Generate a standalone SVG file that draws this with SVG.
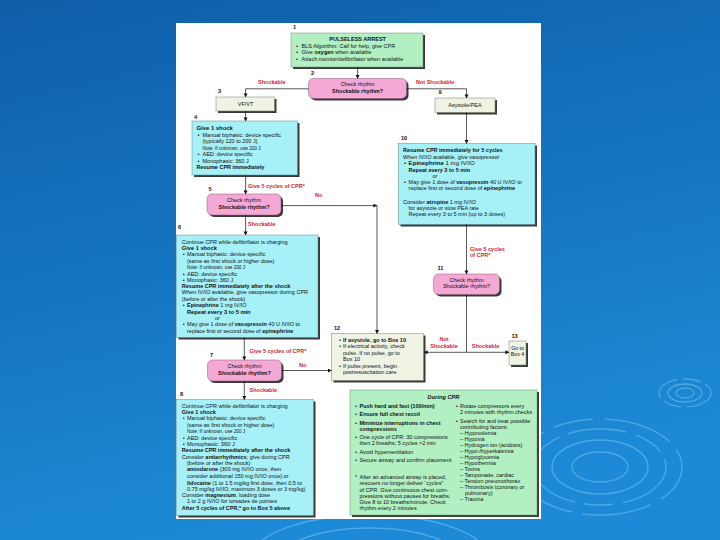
<svg xmlns="http://www.w3.org/2000/svg" width="720" height="540" viewBox="0 0 720 540">
<defs>
<linearGradient id="bg" x1="0" y1="0" x2="0.3" y2="1">
<stop offset="0" stop-color="#0f5ea8"/>
<stop offset="1" stop-color="#1c8ad6"/>
</linearGradient>
<marker id="ah" markerUnits="userSpaceOnUse" markerWidth="5" markerHeight="5" refX="3.6" refY="2" orient="auto">
<path d="M0,0 L3.8,2 L0,4 Z" fill="#111"/>
</marker>
<style>
.t{font-family:"Liberation Sans",Arial,sans-serif;font-size:5.5px;fill:#111}
.b{font-weight:bold}
.i{font-style:italic}
.c{text-anchor:middle}
.n{font-family:"Liberation Sans",Arial,sans-serif;font-size:5.6px;font-weight:bold;fill:#111}
.r{font-family:"Liberation Sans",Arial,sans-serif;font-size:5.5px;font-weight:bold;fill:#d4202c}
.sm{font-size:4.7px}
.sh{fill:#3a3a3a}
.green{fill:#b2f0c2;stroke:#6a8a70;stroke-width:0.5}
.cyan{fill:#a6f0f8;stroke:#5a8a90;stroke-width:0.5}
.pink{fill:#f4a8d6;stroke:#8a5a78;stroke-width:0.5}
.pale{fill:#eef3e4;stroke:#7a8070;stroke-width:0.5}
.ln{fill:none;stroke:#111;stroke-width:0.7}
.rip{fill:none;stroke:#9ad6ff;stroke-opacity:0.4;stroke-width:1.3}
</style>
</defs>
<rect x="0" y="0" width="720" height="540" fill="url(#bg)"/>
<g id="ripples">
<ellipse class="rip" cx="685" cy="393" rx="26" ry="14" stroke-dasharray="30 6 18 4"/>
<ellipse class="rip" cx="685" cy="393" rx="17" ry="9"/>
<ellipse class="rip" cx="685" cy="393" rx="9" ry="5"/>
<ellipse class="rip" cx="600" cy="467" rx="28" ry="15"/>
<ellipse class="rip" cx="600" cy="467" rx="48" ry="27"/>
<ellipse class="rip" cx="600" cy="467" rx="66" ry="38" stroke-dasharray="60 10 30 8"/>
<ellipse class="rip" cx="600" cy="467" rx="82" ry="48" stroke-dasharray="40 12 70 10"/>
<ellipse class="rip" cx="370" cy="560" rx="120" ry="45" stroke-opacity="0.2"/>
<ellipse class="rip" cx="370" cy="560" rx="90" ry="32" stroke-opacity="0.2"/>
</g>
<rect x="176" y="23" width="365" height="496" fill="#ffffff"/>

<g id="n1">
<rect class="sh" x="293" y="35" width="132" height="34"/>
<rect class="green" x="291" y="33" width="132" height="34"/>
<text class="n" x="293" y="29">1</text>
<text class="t b c" x="357.6" y="41">PULSELESS ARREST</text>
<text class="t" x="296" y="47.5">•</text><text class="t" x="301.6" y="47.5">BLS Algorithm: Call for help, give CPR</text>
<text class="t" x="296" y="54">•</text><text class="t" x="301.6" y="54">Give <tspan class="b">oxygen</tspan> when available</text>
<text class="t" x="296" y="60.5">•</text><text class="t" x="301.6" y="60.5">Attach monitor/defibrillator when available</text>
</g>

<g id="n2">
<rect class="sh" x="310.5" y="80.5" width="98" height="20" rx="5"/>
<rect class="pink" x="308.5" y="78.5" width="98" height="20" rx="5"/>
<text class="n" x="311" y="75">2</text>
<text class="t c" x="357.6" y="86.4">Check rhythm</text>
<text class="t b c" x="357.6" y="93">Shockable rhythm?</text>
</g>

<g id="n3">
<rect class="sh" x="218" y="99" width="58.5" height="14"/>
<rect class="pale" x="216" y="97" width="58.5" height="14"/>
<text class="n" x="218" y="93">3</text>
<text class="t c" x="245.6" y="105.5">VF/VT</text>
</g>

<g id="n9">
<rect class="sh" x="437" y="100" width="60" height="14.5"/>
<rect class="pale" x="435" y="98" width="60" height="14.5"/>
<text class="n" x="438.5" y="94">9</text>
<text class="t c" x="465" y="107">Asystole/PEA</text>
</g>

<g id="n4">
<rect class="sh" x="194" y="123" width="105.5" height="54"/>
<rect class="cyan" x="192" y="121" width="105.5" height="54"/>
<text class="n" x="194" y="118.5">4</text>
<text class="t b" x="196.5" y="130.2" style="font-size:5.9px">Give 1 shock</text>
<text class="t" x="197.5" y="136.8">•</text><text class="t" x="202.5" y="136.8">Manual biphasic: device specific</text>
<text class="t" x="202.5" y="143.3">(typically 120 to 200 J)</text>
<text class="t sm" x="202.5" y="149.5">Note: If unknown, use 200 J</text>
<text class="t" x="197.5" y="156">•</text><text class="t" x="202.5" y="156">AED: device specific</text>
<text class="t" x="197.5" y="162.5">•</text><text class="t" x="202.5" y="162.5">Monophasic: 360 J</text>
<text class="t b" x="196.5" y="169">Resume CPR immediately</text>
</g>

<g id="n5">
<rect class="sh" x="209" y="196" width="74" height="21" rx="5"/>
<rect class="pink" x="207" y="194" width="74" height="21" rx="5"/>
<text class="n" x="208.5" y="190.5">5</text>
<text class="t c" x="244" y="202.2">Check rhythm</text>
<text class="t b c" x="244" y="208.8">Shockable rhythm?</text>
</g>

<g id="n6">
<rect class="sh" x="178.5" y="237" width="141.5" height="102.5"/>
<rect class="cyan" x="176.5" y="235" width="141.5" height="102.5"/>
<text class="n" x="178" y="229">6</text>
<text class="t" x="181.8" y="243.5">Continue CPR while defibrillator is charging</text>
<text class="t b" x="181.8" y="249.8" style="font-size:5.7px">Give 1 shock</text>
<text class="t" x="182.7" y="256">•</text><text class="t" x="187" y="256">Manual biphasic: device specific</text>
<text class="t" x="187" y="262.6">(same as first shock or higher dose)</text>
<text class="t sm" x="187" y="268.8">Note: If unknown, use 200 J</text>
<text class="t" x="182.7" y="275.5">•</text><text class="t" x="187" y="275.5">AED: device specific</text>
<text class="t" x="182.7" y="281.8">•</text><text class="t" x="187" y="281.8">Monophasic: 360 J</text>
<text class="t b" x="181.8" y="288">Resume CPR immediately after the shock</text>
<text class="t" x="181.8" y="294.4">When IV/IO available, give vasopressor during CPR</text>
<text class="t" x="181.8" y="300.7">(before or after the shock)</text>
<text class="t" x="182.7" y="307.1">•</text><text class="t" x="187" y="307.1"><tspan class="b">Epinephrine</tspan> 1 mg IV/IO</text>
<text class="t b" x="187" y="313.7" style="font-size:5.7px">Repeat every 3 to 5 min</text>
<text class="t i" x="215" y="319.8">or</text>
<text class="t" x="182.7" y="326.4">•</text><text class="t" x="187" y="326.4">May give 1 dose of <tspan class="b">vasopressin</tspan> 40 U IV/IO to</text>
<text class="t" x="187" y="332.7">replace first or second dose of <tspan class="b">epinephrine</tspan></text>
</g>

<g id="n7">
<rect class="sh" x="209.5" y="362" width="74" height="21" rx="5"/>
<rect class="pink" x="207.5" y="360" width="74" height="21" rx="5"/>
<text class="n" x="210" y="357">7</text>
<text class="t c" x="244.5" y="368.4">Check rhythm</text>
<text class="t b c" x="244.5" y="375" style="font-size:5.7px">Shockable rhythm?</text>
</g>

<g id="n8">
<rect class="sh" x="178.5" y="401.5" width="137" height="116"/>
<rect class="cyan" x="176.5" y="399.5" width="137" height="116"/>
<text class="n" x="180" y="395.5">8</text>
<text class="t" x="181.8" y="408">Continue CPR while defibrillator is charging</text>
<text class="t b" x="181.8" y="414">Give 1 shock</text>
<text class="t" x="182.7" y="420.4">•</text><text class="t" x="187" y="420.4">Manual biphasic: device specific</text>
<text class="t" x="187" y="427">(same as first shock or higher dose)</text>
<text class="t sm" x="187" y="433.1">Note: If unknown, use 200 J</text>
<text class="t" x="182.7" y="439.7">•</text><text class="t" x="187" y="439.7">AED: device specific</text>
<text class="t" x="182.7" y="445.9">•</text><text class="t" x="187" y="445.9" style="font-size:5.7px">Monophasic: 360 J</text>
<text class="t b" x="181.8" y="452.1">Resume CPR immediately after the shock</text>
<text class="t" x="181.8" y="458.7">Consider <tspan class="b">antiarrhythmics</tspan>; give during CPR</text>
<text class="t" x="187" y="465.2">(before or after the shock)</text>
<text class="t" x="187" y="471.4"><tspan class="b">amiodarone</tspan> (300 mg IV/IO once, then</text>
<text class="t" x="187" y="477.9">consider additional 150 mg IV/IO once) or</text>
<text class="t" x="187" y="484.5"><tspan class="b">lidocaine</tspan> (1 to 1.5 mg/kg first dose, then 0.5 to</text>
<text class="t" x="187" y="490.7">0.75 mg/kg IV/IO, maximum 3 doses or 3 mg/kg)</text>
<text class="t" x="181.8" y="497.2">Consider <tspan class="b">magnesium</tspan>, loading dose</text>
<text class="t" x="187" y="503.4">1 to 2 g IV/IO for torsades de pointes</text>
<text class="t b" x="181.8" y="509.7">After 5 cycles of CPR,* go to Box 5 above</text>
</g>

<g id="n10">
<rect class="sh" x="400.5" y="145.5" width="136.5" height="81"/>
<rect class="cyan" x="398.5" y="143.5" width="136.5" height="81"/>
<text class="n" x="401" y="140">10</text>
<text class="t b" x="403" y="152.2">Resume CPR immediately for 5 cycles</text>
<text class="t" x="403" y="158.7">When IV/IO available, give vasopressor</text>
<text class="t" x="404" y="165.2" style="font-size:6.1px">•</text><text class="t" x="408.6" y="165.2" style="font-size:6.1px"><tspan class="b">Epinephrine</tspan> 1 mg IV/IO</text>
<text class="t b" x="408.6" y="171.5">Repeat every 3 to 5 min</text>
<text class="t i" x="432.5" y="177.7">or</text>
<text class="t" x="404" y="184.2">•</text><text class="t" x="408.6" y="184.2">May give 1 dose of <tspan class="b">vasopressin</tspan> 40 U IV/IO to</text>
<text class="t" x="408.6" y="190.4">replace first or second dose of <tspan class="b">epinephrine</tspan></text>
<text class="t" x="403" y="203.7">Consider <tspan class="b">atropine</tspan> 1 mg IV/IO</text>
<text class="t" x="408.6" y="210">for asystole or slow PEA rate</text>
<text class="t" x="408.6" y="216.2">Repeat every 3 to 5 min (up to 3 doses)</text>
</g>

<g id="n11">
<rect class="sh" x="435.5" y="276" width="66" height="20.5" rx="5"/>
<rect class="pink" x="433.5" y="274" width="66" height="20.5" rx="5"/>
<text class="n" x="437.5" y="270">11</text>
<text class="t c" x="466.5" y="281.8">Check rhythm</text>
<text class="t c" x="466.5" y="288.3">Shockable rhythm?</text>
</g>

<g id="n12">
<rect class="sh" x="333.5" y="335.5" width="92" height="47"/>
<rect class="pale" x="331.5" y="333.5" width="92" height="47"/>
<text class="n" x="334" y="329.5">12</text>
<text class="t" x="339" y="341.8">•</text><text class="t b" x="343" y="341.8">If asystole, go to Box 10</text>
<text class="t" x="339" y="348.2">•</text><text class="t" x="343" y="348.2">If electrical activity, check</text>
<text class="t" x="343" y="354.8">pulse. If no pulse, go to</text>
<text class="t" x="343" y="360.8">Box 10</text>
<text class="t" x="339" y="367.5">•</text><text class="t" x="343" y="367.5">If pulse present, begin</text>
<text class="t" x="343" y="374">postresuscitation care</text>
</g>

<g id="n13">
<rect class="sh" x="511" y="343" width="17" height="24"/>
<rect class="pale" x="509" y="341" width="17" height="24"/>
<text class="n" x="511.5" y="337.5">13</text>
<text class="t c" x="517.5" y="349.6" style="font-size:5.2px">Go to</text>
<text class="t c" x="517.5" y="355.8" style="font-size:5.2px">Box 4</text>
</g>

<g id="cpr">
<rect class="sh" x="352" y="392" width="187" height="125"/>
<rect class="green" x="350" y="390" width="187" height="125"/>
<text class="t b i c" x="443.5" y="398.5" style="font-size:5.7px">During CPR</text>
<text class="t" x="355" y="408.1">•</text><text class="t b" x="359.5" y="408.1">Push hard and fast (100/min)</text>
<text class="t" x="355" y="416.4">•</text><text class="t b" x="359.5" y="416.4">Ensure full chest recoil</text>
<text class="t" x="355" y="424.7">•</text><text class="t b" x="359.5" y="424.7">Minimize interruptions in chest</text>
<text class="t b" x="359.5" y="430.8">compressions</text>
<text class="t" x="355" y="439.1">•</text><text class="t" x="359.5" y="439.1">One cycle of CPR: 30 compressions</text>
<text class="t" x="359.5" y="445.3">then 2 breaths; 5 cycles ≈2 min</text>
<text class="t" x="355" y="453.8">•</text><text class="t" x="359.5" y="453.8">Avoid hyperventilation</text>
<text class="t" x="355" y="462.2">•</text><text class="t" x="359.5" y="462.2">Secure airway and confirm placement</text>
<text class="t" x="355" y="479.1">*</text><text class="t" x="359.5" y="479.1">After an advanced airway is placed,</text>
<text class="t" x="359.5" y="485.3">rescuers no longer deliver “cycles”</text>
<text class="t" x="359.5" y="491.5">of CPR. Give continuous chest com-</text>
<text class="t" x="359.5" y="497.7">pressions without pauses for breaths.</text>
<text class="t" x="359.5" y="503.8">Give 8 to 10 breaths/minute. Check</text>
<text class="t" x="359.5" y="509.8">rhythm every 2 minutes</text>
<text class="t" x="456" y="408.1">•</text><text class="t" x="460" y="408.1">Rotate compressors every</text>
<text class="t" x="460" y="414">2 minutes with rhythm checks</text>
<text class="t" x="456" y="422.6">•</text><text class="t" x="460" y="422.6">Search for and treat possible</text>
<text class="t" x="460" y="428.8">contributing factors:</text>
<text class="t" x="460" y="434.7">– Hypovolemia</text>
<text class="t" x="460" y="440.8">– Hypoxia</text>
<text class="t" x="460" y="446.8">– Hydrogen ion (acidosis)</text>
<text class="t" x="460" y="452.6">– Hypo-/hyperkalemia</text>
<text class="t" x="460" y="458.8">– Hypoglycemia</text>
<text class="t" x="460" y="465">– Hypothermia</text>
<text class="t" x="460" y="470.8">– Toxins</text>
<text class="t" x="460" y="477">– Tamponade, cardiac</text>
<text class="t" x="460" y="482.8">– Tension pneumothorax</text>
<text class="t" x="460" y="489.1">– Thrombosis (coronary or</text>
<text class="t" x="465" y="494.8">pulmonary)</text>
<text class="t" x="460" y="501.1">– Trauma</text>
</g>

<g id="connectors">
<path class="ln" d="M357.6,67 V78.5" marker-end="url(#ah)"/>
<path class="ln" d="M308.5,88.8 H245.6 V97" marker-end="url(#ah)"/>
<path class="ln" d="M406.5,88.8 H466.5 V98" marker-end="url(#ah)"/>
<path class="ln" d="M245.6,111 V121" marker-end="url(#ah)"/>
<path class="ln" d="M466.5,112.5 V143.5" marker-end="url(#ah)"/>
<path class="ln" d="M245.6,175 V194" marker-end="url(#ah)"/>
<path class="ln" d="M281,205.6 H377" marker-end="url(#ah)"/>
<path class="ln" d="M377,205.6 V333.5" marker-end="url(#ah)"/>
<path class="ln" d="M245.6,215 V235" marker-end="url(#ah)"/>
<path class="ln" d="M244.3,337.5 V360" marker-end="url(#ah)"/>
<path class="ln" d="M281.5,370.5 H331.5" marker-end="url(#ah)"/>
<path class="ln" d="M244.3,381 V399.5" marker-end="url(#ah)"/>
<path class="ln" d="M466.5,224.5 V274" marker-end="url(#ah)"/>
<path class="ln" d="M466.5,294.5 V352.3"/>
<path class="ln" d="M466.5,352.3 H424" marker-end="url(#ah)"/>
<path class="ln" d="M466.5,352.3 H509" marker-end="url(#ah)"/>
<text class="r" x="258" y="84">Shockable</text>
<text class="r" x="416" y="84">Not Shockable</text>
<text class="r" x="248" y="187.8">Give 5 cycles of CPR*</text>
<text class="r" x="315" y="197">No</text>
<text class="r" x="248" y="226">Shockable</text>
<text class="r" x="249.5" y="352.8">Give 5 cycles of CPR*</text>
<text class="r" x="299" y="367">No</text>
<text class="r" x="249.5" y="392">Shockable</text>
<text class="r" x="470" y="250.8">Give 5 cycles</text>
<text class="r" x="470" y="257.3">of CPR*</text>
<text class="r c" x="444" y="341">Not</text>
<text class="r c" x="444" y="347.5">Shockable</text>
<text class="r c" x="485.5" y="347.5">Shockable</text>
</g>
</svg>
